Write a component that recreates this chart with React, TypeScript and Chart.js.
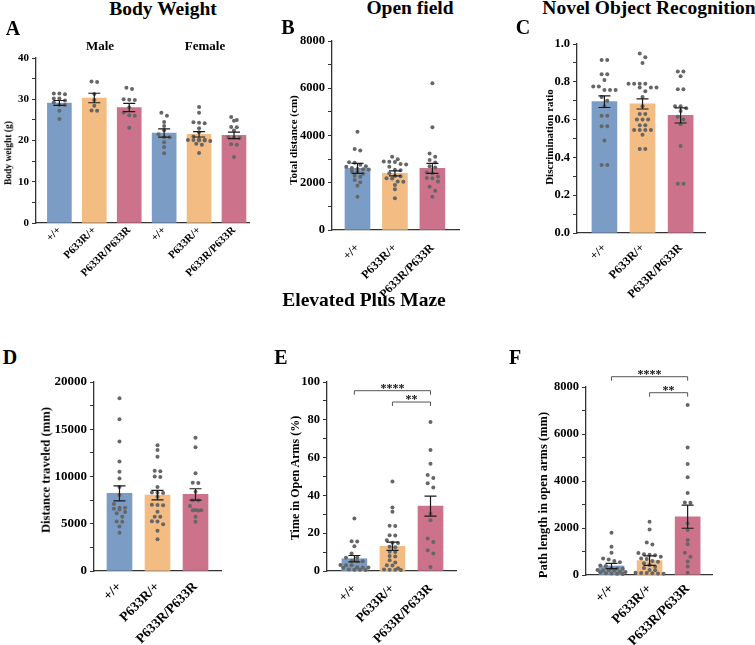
import React, { useEffect, useRef } from 'react';
import { Chart, registerables } from 'chart.js';
Chart.register(...registerables);

const FONT = '"Liberation Serif", "Times New Roman", Times, serif';
const BLUE = '#7b9dc5';
const ORANGE = '#f2bc82';
const PINK = '#cc728b';
const POINT = '#666666';
const AXIS = '#333333';

const genoLabels = ['+/+', 'P633R/+', 'P633R/P633R'];

// ---- A: Body weight (g) ----
const bwLabels = ['+/+', 'P633R/+', 'P633R/P633R', '+/+', 'P633R/+', 'P633R/P633R'];
const bwMeans = [29.1, 30.3, 28.0, 21.8, 21.5, 21.25];
const bwSem = [0.6, 1.15, 1.0, 1.0, 0.65, 0.8];
const bwWtMale = [31.4, 31.4, 31.2, 30.2, 30.2, 29.7, 29.2, 28.6, 28.6, 27.2, 25.2];
const bwHetMale = [34.3, 34.2, 31.3, 29.8, 28.4, 27.3, 27.2];
const bwHomMale = [32.8, 32.5, 30.0, 29.9, 29.8, 28.0, 26.8, 26.1, 26.0, 23.1];
const bwWtFemale = [26.7, 26.0, 24.5, 23.5, 22.5, 21.5, 20.8, 20.8, 19.6, 18.4, 16.9];
const bwHetFemale = [28.1, 26.7, 24.4, 24.3, 24.2, 23.0, 22.0, 21.0, 20.3, 20.2, 20.1, 20.1, 20.0, 20.0, 19.9, 19.2, 19.0, 17.0];
const bwHomFemale = [25.7, 25.0, 24.8, 22.4, 23.3, 23.2, 20.8, 20.7, 20.6, 19.1, 19.0, 16.0];

// ---- B: Open field total distance (cm) ----
const ofMeans = [2610, 2400, 2610];
const ofSem = [210, 105, 210];
const ofWt = [4160, 3430, 3360, 2870, 2850, 2760, 2700, 2680, 2620, 2580, 2570, 2560, 2500, 2470, 2380, 2300, 2250, 2120, 2020, 1870, 1410];
const ofHet = [3100, 2990, 2900, 2890, 2880, 2790, 2770, 2680, 2550, 2530, 2400, 2290, 2280, 2190, 2180, 2050, 2040, 1910, 1720, 1340];
const ofHom = [6210, 4350, 3240, 3100, 2960, 2860, 2700, 2650, 2430, 2400, 2260, 2200, 2190, 2050, 1830, 1660, 1410];

// ---- C: Novel object recognition discrimination ratio ----
const norMeans = [0.695, 0.683, 0.622];
const norSem = [0.031, 0.027, 0.04];
const norWt = [0.915, 0.915, 0.84, 0.84, 0.81, 0.775, 0.775, 0.757, 0.757, 0.757, 0.72, 0.70, 0.67, 0.62, 0.62, 0.565, 0.565, 0.49, 0.36, 0.36];
const norHet = [0.95, 0.93, 0.90, 0.79, 0.79, 0.79, 0.79, 0.77, 0.77, 0.77, 0.75, 0.72, 0.67, 0.63, 0.63, 0.60, 0.60, 0.60, 0.57, 0.57, 0.545, 0.545, 0.545, 0.545, 0.52, 0.445, 0.445];
const norHom = [0.855, 0.855, 0.83, 0.76, 0.76, 0.67, 0.67, 0.66, 0.645, 0.615, 0.60, 0.575, 0.46, 0.26, 0.26];

// ---- D: EPM distance traveled (mm) ----
const epmDistMeans = [8212, 8035, 8106];
const epmDistSem = [800, 500, 600];
const epmDistWt = [18270, 16070, 13700, 11580, 10510, 9800, 8900, 8050, 7100, 6700, 6680, 6600, 6500, 6250, 6100, 5750, 5250, 5200, 4700, 4050];
const epmDistHet = [13300, 12800, 12100, 10600, 10550, 10000, 9950, 8900, 8300, 8280, 8250, 7850, 7000, 6980, 6950, 6270, 5750, 5730, 5270, 5250, 4950, 4250, 3360];
const epmDistHom = [14090, 13100, 10340, 9350, 9300, 8390, 7500, 7450, 6870, 6450, 6440, 6420, 6400, 5730, 5200];

// ---- E: EPM time in open arms (%) ----
const epmTimeMeans = [6.5, 13.1, 34.3];
const epmTimeSem = [1.7, 2.2, 5.3];
const epmTimeWt = [27.8, 15.8, 15.6, 13.1, 9.3, 7.2, 7.0, 5.4, 5.3, 5.2, 3.2, 3.1, 3.0, 2.0, 1.9, 1.8, 1.7, 0.8, 0.7, 0.6, 0.5];
const epmTimeHet = [47.3, 33.6, 31.3, 23.9, 23.8, 18.9, 18.8, 16.3, 15.0, 14.8, 12.8, 12.6, 10.2, 10.0, 7.9, 7.7, 5.7, 4.5, 3.1, 2.9, 1.5, 0.8, 0.7, 0.6, 0.5];
const epmTimeHom = [78.8, 64.0, 56.8, 50.8, 49.2, 46.4, 44.2, 30.4, 26.9, 17.2, 15.4, 11.0, 9.2, 2.1];

// ---- F: EPM path length in open arms (mm) ----
const epmPathMeans = [383, 610, 2480];
const epmPathSem = [110, 200, 490];
const epmPathWt = [1800, 1200, 950, 700, 600, 660, 540, 400, 380, 290, 280, 270, 210, 200, 200, 190, 140, 130, 120, 70, 60, 50, 40];
const epmPathHet = [2270, 1940, 1380, 1300, 940, 880, 860, 840, 780, 700, 680, 600, 560, 500, 430, 350, 300, 210, 200, 100, 90, 80, 70, 60, 50];
const epmPathHom = [7230, 5430, 4720, 4160, 3490, 3080, 3070, 2200, 1910, 1490, 1310, 950, 780, 570, 360, 100];

type Bracket = { from: number; to: number; y: number; text: string };
type PanelCfg = {
  labels: string[];
  means: number[];
  sem: number[];
  groups: number[][];
  colors: string[];
  yMax: number;
  yMinor: number;
  yMajor: number;
  decimals: number;
  xMin: number;
  xMax: number;
  tickSize: number;
  xLabelSize: number;
  xLabelPad: number;
  barThickness: number;
  left: number;
  axisX: number;
  plotTop: number;
  plotBottom: number;
  plotRight: number;
  padTop: number;
  brackets?: Bracket[];
  dotted?: boolean;
};

const XH = 100;
const PAD_R = 8;

const panels: PanelCfg[] = [
  {
    labels: bwLabels, means: bwMeans, sem: bwSem,
    groups: [bwWtMale, bwHetMale, bwHomMale, bwWtFemale, bwHetFemale, bwHomFemale],
    colors: [BLUE, ORANGE, PINK, BLUE, ORANGE, PINK],
    yMax: 40, yMinor: 5, yMajor: 10, decimals: 0, xMin: -0.67, xMax: 5.43,
    tickSize: 11, xLabelSize: 11, xLabelPad: 1, barThickness: 24,
    left: 4, axisX: 36, plotTop: 58, plotBottom: 223, plotRight: 249, padTop: 20,
  },
  {
    labels: genoLabels, means: ofMeans, sem: ofSem, groups: [ofWt, ofHet, ofHom],
    colors: [BLUE, ORANGE, PINK],
    yMax: 8000, yMinor: 1000, yMajor: 2000, decimals: 0, xMin: -0.68, xMax: 2.71,
    tickSize: 12.5, xLabelSize: 12, xLabelPad: 11, barThickness: 25,
    left: 287, axisX: 332, plotTop: 41, plotBottom: 230, plotRight: 459, padTop: 20,
  },
  {
    labels: genoLabels, means: norMeans, sem: norSem, groups: [norWt, norHet, norHom],
    colors: [BLUE, ORANGE, PINK],
    yMax: 1.0, yMinor: 0.1, yMajor: 0.2, decimals: 1, xMin: -0.72, xMax: 2.64,
    tickSize: 12.5, xLabelSize: 12, xLabelPad: 8, barThickness: 25,
    left: 543, axisX: 577, plotTop: 44, plotBottom: 233, plotRight: 705, padTop: 20,
  },
  {
    labels: genoLabels, means: epmDistMeans, sem: epmDistSem, groups: [epmDistWt, epmDistHet, epmDistHom],
    colors: [BLUE, ORANGE, PINK],
    yMax: 20000, yMinor: 2500, yMajor: 5000, decimals: 0, xMin: -0.67, xMax: 2.67,
    tickSize: 13, xLabelSize: 13.5, xLabelPad: 8, barThickness: 25,
    left: 38, axisX: 94, plotTop: 382, plotBottom: 571, plotRight: 221, padTop: 40,
  },
  {
    labels: genoLabels, means: epmTimeMeans, sem: epmTimeSem, groups: [epmTimeWt, epmTimeHet, epmTimeHom],
    colors: [BLUE, ORANGE, PINK],
    yMax: 100, yMinor: 10, yMajor: 20, decimals: 0, xMin: -0.72, xMax: 2.67,
    tickSize: 12.5, xLabelSize: 13, xLabelPad: 10, barThickness: 25,
    left: 288, axisX: 327, plotTop: 382, plotBottom: 571, plotRight: 456, padTop: 40,
    brackets: [
      { from: 0, to: 2, y: 95.4, text: '****' },
      { from: 1, to: 2, y: 89.4, text: '**' },
    ],
  },
  {
    labels: genoLabels, means: epmPathMeans, sem: epmPathSem, groups: [epmPathWt, epmPathHet, epmPathHom],
    colors: [BLUE, ORANGE, PINK],
    yMax: 8000, yMinor: 1000, yMajor: 2000, decimals: 0, xMin: -0.67, xMax: 2.64,
    tickSize: 12.5, xLabelSize: 13.5, xLabelPad: 6, barThickness: 25,
    left: 536, axisX: 586, plotTop: 387, plotBottom: 575, plotRight: 712, padTop: 40, dotted: true,
    brackets: [
      { from: 0, to: 2, y: 8438, text: '****' },
      { from: 1, to: 2, y: 7757, text: '**' },
    ],
  },
];

const MAX_ROW = 6;

function swarm(values: number[], g: number, dx: number, tol: number) {
  const sorted = [...values].sort((a, b) => b - a);
  const out: { x: number; y: number }[] = [];
  let i = 0;
  while (i < sorted.length) {
    let j = i;
    while (j + 1 < sorted.length && j + 1 - i < MAX_ROW && sorted[i] - sorted[j + 1] < tol) j++;
    const n = j - i + 1;
    for (let k = 0; k < n; k++) out.push({ x: g + (k - (n - 1) / 2) * dx, y: sorted[i + k] });
    i = j + 1;
  }
  return out;
}

function Panel({ cfg }: { cfg: PanelCfg }) {
  const ref = useRef<HTMLCanvasElement>(null);
  const yw = cfg.axisX - cfg.left;
  const plotW = cfg.plotRight - cfg.axisX;
  const plotH = cfg.plotBottom - cfg.plotTop;
  const w = yw + plotW + PAD_R;
  const h = cfg.padTop + plotH + XH;
  const top = cfg.plotTop - cfg.padTop;

  useEffect(() => {
    const pxPerUnit = plotW / (cfg.xMax - cfg.xMin);
    const dx = 5.6 / pxPerUnit;
    const tol = cfg.yMax * 0.022;
    const pts = cfg.groups.flatMap((vals, g) => swarm(vals, g, dx, tol));

    const overlay = {
      id: 'overlay',
      afterDatasetsDraw(chart: any) {
        const { ctx, scales } = chart;
        const x = scales.x;
        const y = scales.y;
        ctx.save();
        ctx.strokeStyle = '#1a1a1a';
        ctx.lineWidth = 1.2;
        cfg.means.forEach((m, i) => {
          const px = x.getPixelForValue(i);
          const t = y.getPixelForValue(m + cfg.sem[i]);
          const b = y.getPixelForValue(m - cfg.sem[i]);
          ctx.beginPath();
          ctx.moveTo(px, t); ctx.lineTo(px, b);
          ctx.moveTo(px - 6, t); ctx.lineTo(px + 6, t);
          ctx.moveTo(px - 6, b); ctx.lineTo(px + 6, b);
          ctx.stroke();
        });
        (cfg.brackets || []).forEach((br) => {
          const x1 = x.getPixelForValue(br.from);
          const x2 = x.getPixelForValue(br.to);
          const py = y.getPixelForValue(br.y);
          ctx.strokeStyle = '#555';
          ctx.lineWidth = 1;
          ctx.beginPath();
          ctx.moveTo(x1, py + 4); ctx.lineTo(x1, py); ctx.lineTo(x2, py); ctx.lineTo(x2, py + 4);
          ctx.stroke();
          ctx.fillStyle = '#111';
          ctx.font = `bold 12px ${FONT}`;
          ctx.textAlign = 'center';
          ctx.textBaseline = 'alphabetic';
          ctx.fillText(br.text, (x1 + x2) / 2, py + 1);
        });
        ctx.restore();
      },
    };

    const chart = new Chart(ref.current!, {
      type: 'bar',
      data: {
        datasets: [
          {
            type: 'scatter',
            data: pts,
            pointStyle: 'circle',
            pointRadius: 2.0,
            pointBackgroundColor: POINT,
            pointBorderWidth: 0,
            order: 0,
            clip: false,
          } as any,
          {
            type: 'bar',
            data: cfg.means.map((m, i) => ({ x: i, y: m })),
            backgroundColor: cfg.colors,
            borderWidth: 0,
            barThickness: cfg.barThickness,
            order: 1,
          } as any,
        ],
      },
      options: {
        responsive: false,
        animation: false,
        devicePixelRatio: 1,
        events: [],
        layout: { padding: { left: 0, top: cfg.padTop, right: PAD_R, bottom: 0 } },
        plugins: { legend: { display: false }, tooltip: { enabled: false } },
        scales: {
          x: {
            type: 'linear',
            min: cfg.xMin,
            max: cfg.xMax,
            offset: false,
            grid: { display: false, drawTicks: false, offset: false },
            border: { display: true, color: AXIS, width: 1.3, dash: cfg.dotted ? [2, 2] : [] },
            afterBuildTicks: (s: any) => { s.ticks = cfg.labels.map((_, i) => ({ value: i })); },
            afterFit: (s: any) => { s.height = XH; },
            ticks: {
              autoSkip: false,
              minRotation: 45,
              maxRotation: 45,
              padding: cfg.xLabelPad,
              color: '#000',
              font: { family: FONT, size: cfg.xLabelSize, weight: 'bold' },
              callback: (v: any) => cfg.labels[Math.round(Number(v))] ?? '',
            },
          } as any,
          y: {
            type: 'linear',
            min: 0,
            max: cfg.yMax,
            grid: { display: true, drawOnChartArea: false, drawTicks: true, tickLength: 4, color: AXIS, lineWidth: 1 },
            border: { display: true, color: AXIS, width: 1.3 },
            afterFit: (s: any) => { s.width = yw; },
            title: { display: false },
            ticks: {
              stepSize: cfg.yMinor,
              padding: 3,
              color: '#000',
              font: { family: FONT, size: cfg.tickSize, weight: 'bold' },
              callback: (v: any) => {
                const n = Number(v);
                const r = n / cfg.yMajor;
                return Math.abs(r - Math.round(r)) < 1e-6 ? n.toFixed(cfg.decimals) : '';
              },
            },
          } as any,
        },
      },
      plugins: [overlay],
    });
    return () => chart.destroy();
  }, []);

  return (
    <canvas
      ref={ref}
      width={w}
      height={h}
      style={{ position: 'absolute', left: cfg.left, top, width: w, height: h }}
    />
  );
}

type Txt = { text: string; x: number; y: number; size: number; rot?: boolean };
const texts: Txt[] = [
  { text: 'Body Weight', x: 163, y: 9, size: 19.5 },
  { text: 'Open field', x: 410, y: 8, size: 19.5 },
  { text: 'Novel Object Recognition', x: 649, y: 8, size: 19.5 },
  { text: 'Elevated Plus Maze', x: 364, y: 300, size: 19.5 },
  { text: 'A', x: 13, y: 28, size: 20 },
  { text: 'B', x: 288, y: 27, size: 20 },
  { text: 'C', x: 523, y: 27, size: 20 },
  { text: 'D', x: 10, y: 357, size: 20 },
  { text: 'E', x: 281, y: 357, size: 20 },
  { text: 'F', x: 515, y: 357, size: 20 },
  { text: 'Male', x: 100, y: 45, size: 13 },
  { text: 'Female', x: 205, y: 45, size: 13 },
  { text: 'Body weight (g)', x: 9, y: 153, size: 9.5, rot: true },
  { text: 'Total distance (cm)', x: 293, y: 140, size: 11, rot: true },
  { text: 'Discrimination ratio', x: 549, y: 137, size: 11, rot: true },
  { text: 'Distance traveled (mm)', x: 46, y: 470, size: 12.6, rot: true },
  { text: 'Time in Open Arms (%)', x: 295, y: 478, size: 12, rot: true },
  { text: 'Path length in open arms (mm)', x: 543, y: 495, size: 12.5, rot: true },
];

export default function App() {
  return (
    <div style={{ position: 'absolute', left: 0, top: 0, width: 755, height: 645, background: '#fff', overflow: 'hidden' }}>
      {panels.map((p, i) => <Panel key={i} cfg={p} />)}
      {texts.map((t, i) => (
        <div
          key={'t' + i}
          style={{
            position: 'absolute', left: t.x, top: t.y,
            transform: t.rot ? 'translate(-50%, -50%) rotate(-90deg)' : 'translate(-50%, -50%)',
            fontFamily: FONT, fontWeight: 'bold', fontSize: t.size, lineHeight: 1, whiteSpace: 'nowrap', color: '#000',
          }}
        >
          {t.text}
        </div>
      ))}
    </div>
  );
}
